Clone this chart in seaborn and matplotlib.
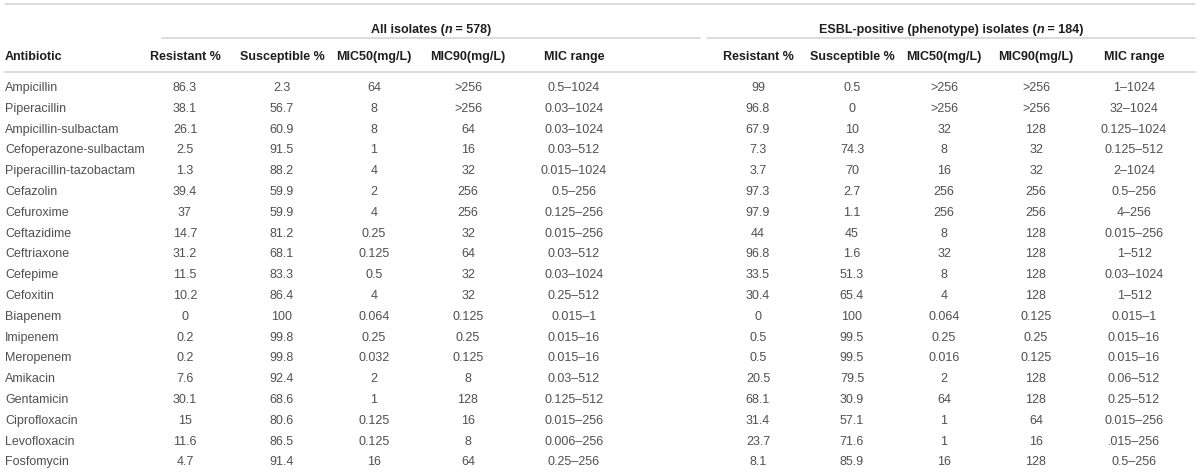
import matplotlib
matplotlib.use("Agg")
import matplotlib.pyplot as plt
import seaborn as sns

sns.set_theme(style="white")
plt.rcParams["font.family"] = ["Liberation Sans", "DejaVu Sans"]

antibiotics = ["Ampicillin", "Piperacillin", "Ampicillin-sulbactam", "Cefoperazone-sulbactam",
               "Piperacillin-tazobactam", "Cefazolin", "Cefuroxime", "Ceftazidime", "Ceftriaxone",
               "Cefepime", "Cefoxitin", "Biapenem", "Imipenem", "Meropenem", "Amikacin",
               "Gentamicin", "Ciprofloxacin", "Levofloxacin", "Fosfomycin"]

# All isolates (n = 578)
all_res = ["86.3", "38.1", "26.1", "2.5", "1.3", "39.4", "37", "14.7", "31.2", "11.5", "10.2",
           "0", "0.2", "0.2", "7.6", "30.1", "15", "11.6", "4.7"]
all_sus = ["2.3", "56.7", "60.9", "91.5", "88.2", "59.9", "59.9", "81.2", "68.1", "83.3", "86.4",
           "100", "99.8", "99.8", "92.4", "68.6", "80.6", "86.5", "91.4"]
all_mic50 = ["64", "8", "8", "1", "4", "2", "4", "0.25", "0.125", "0.5", "4",
             "0.064", "0.25", "0.032", "2", "1", "0.125", "0.125", "16"]
all_mic90 = [">256", ">256", "64", "16", "32", "256", "256", "32", "64", "32", "32",
             "0.125", "0.25", "0.125", "8", "128", "16", "8", "64"]
all_range = ["0.5–1024", "0.03–1024", "0.03–1024", "0.03–512", "0.015–1024", "0.5–256",
             "0.125–256", "0.015–256", "0.03–512", "0.03–1024", "0.25–512", "0.015–1",
             "0.015–16", "0.015–16", "0.03–512", "0.125–512", "0.015–256", "0.006–256", "0.25–256"]

# ESBL-positive (phenotype) isolates (n = 184)
esbl_res = ["99", "96.8", "67.9", "7.3", "3.7", "97.3", "97.9", "44", "96.8", "33.5", "30.4",
            "0", "0.5", "0.5", "20.5", "68.1", "31.4", "23.7", "8.1"]
esbl_sus = ["0.5", "0", "10", "74.3", "70", "2.7", "1.1", "45", "1.6", "51.3", "65.4",
            "100", "99.5", "99.5", "79.5", "30.9", "57.1", "71.6", "85.9"]
esbl_mic50 = [">256", ">256", "32", "8", "16", "256", "256", "8", "32", "8", "4",
              "0.064", "0.25", "0.016", "2", "64", "1", "1", "16"]
esbl_mic90 = [">256", ">256", "128", "32", "32", "256", "256", "128", "128", "128", "128",
              "0.125", "0.25", "0.125", "128", "128", "64", "16", "128"]
esbl_range = ["1–1024", "32–1024", "0.125–1024", "0.125–512", "2–1024", "0.5–256", "4–256",
              "0.015–256", "1–512", "0.03–1024", "1–512", "0.015–1", "0.015–16", "0.015–16",
              "0.06–512", "0.25–512", "0.015–256", ".015–256", "0.5–256"]

col_headers = ["Resistant %", "Susceptible %", "MIC50(mg/L)", "MIC90(mg/L)", "MIC range"]

W, H = 1200, 474
fig = plt.figure(figsize=(W / 100, H / 100), dpi=100)
ax = fig.add_axes([0, 0, 1, 1])
ax.set_xlim(0, W)
ax.set_ylim(H, 0)
ax.axis("off")

line_col = "#d6d6d6"
head_col = "#1e1e1e"
body_col = "#505050"
fs = 9

# column centres, row layout
x_all = [185, 282, 374, 468, 574]
x_esbl = [758, 852, 944, 1036, 1134]
y_top, y_group, y_gline, y_head, y_hline = 4, 30, 38, 57, 72
y0, dy = 88, 20.8

ax.plot([5, 1195], [y_top, y_top], color=line_col, lw=1.2)
ax.plot([162, 700], [y_gline, y_gline], color=line_col, lw=1.2)
ax.plot([707, 1195], [y_gline, y_gline], color=line_col, lw=1.2)
ax.plot([5, 1195], [y_hline, y_hline], color=line_col, lw=1.2)


def group_title(xc, before, after):
    # bold title with an italic "n"
    parts = [(before, "normal"), ("n", "italic"), (after, "normal")]
    texts = []
    prev = None
    for s, style in parts:
        if prev is None:
            t = ax.text(0, y_group, s, fontsize=fs, fontweight="bold", style=style,
                        color=head_col, va="center", ha="left")
        else:
            t = ax.annotate(s, xy=(1, 0), xycoords=prev, va="bottom", ha="left",
                            fontsize=fs, fontweight="bold", style=style, color=head_col)
        texts.append(t)
        prev = t
    fig.canvas.draw()
    r = fig.canvas.get_renderer()
    x_px0 = texts[0].get_window_extent(r).x0
    x_px1 = texts[-1].get_window_extent(r).x1
    inv = ax.transData.inverted()
    left = inv.transform((x_px0, 0))[0]
    right = inv.transform((x_px1, 0))[0]
    texts[0].set_x(xc - (right - left) / 2)


group_title((162 + 700) / 2, "All isolates (", " = 578)")
group_title((707 + 1195) / 2, "ESBL-positive (phenotype) isolates (", " = 184)")

ax.text(5, y_head, "Antibiotic", fontsize=fs, fontweight="bold", color=head_col, va="center")
for xs in (x_all, x_esbl):
    for x, h in zip(xs, col_headers):
        ax.text(x, y_head, h, fontsize=fs, fontweight="bold", color=head_col,
                ha="center", va="center")

cols_all = [all_res, all_sus, all_mic50, all_mic90, all_range]
cols_esbl = [esbl_res, esbl_sus, esbl_mic50, esbl_mic90, esbl_range]
for i, name in enumerate(antibiotics):
    y = y0 + i * dy
    ax.text(5, y, name, fontsize=fs, color=body_col, va="center")
    for xs, cols in ((x_all, cols_all), (x_esbl, cols_esbl)):
        for x, col in zip(xs, cols):
            ax.text(x, y, col[i], fontsize=fs, color=body_col, ha="center", va="center")

fig.savefig("out.png", dpi=100, facecolor="white")
